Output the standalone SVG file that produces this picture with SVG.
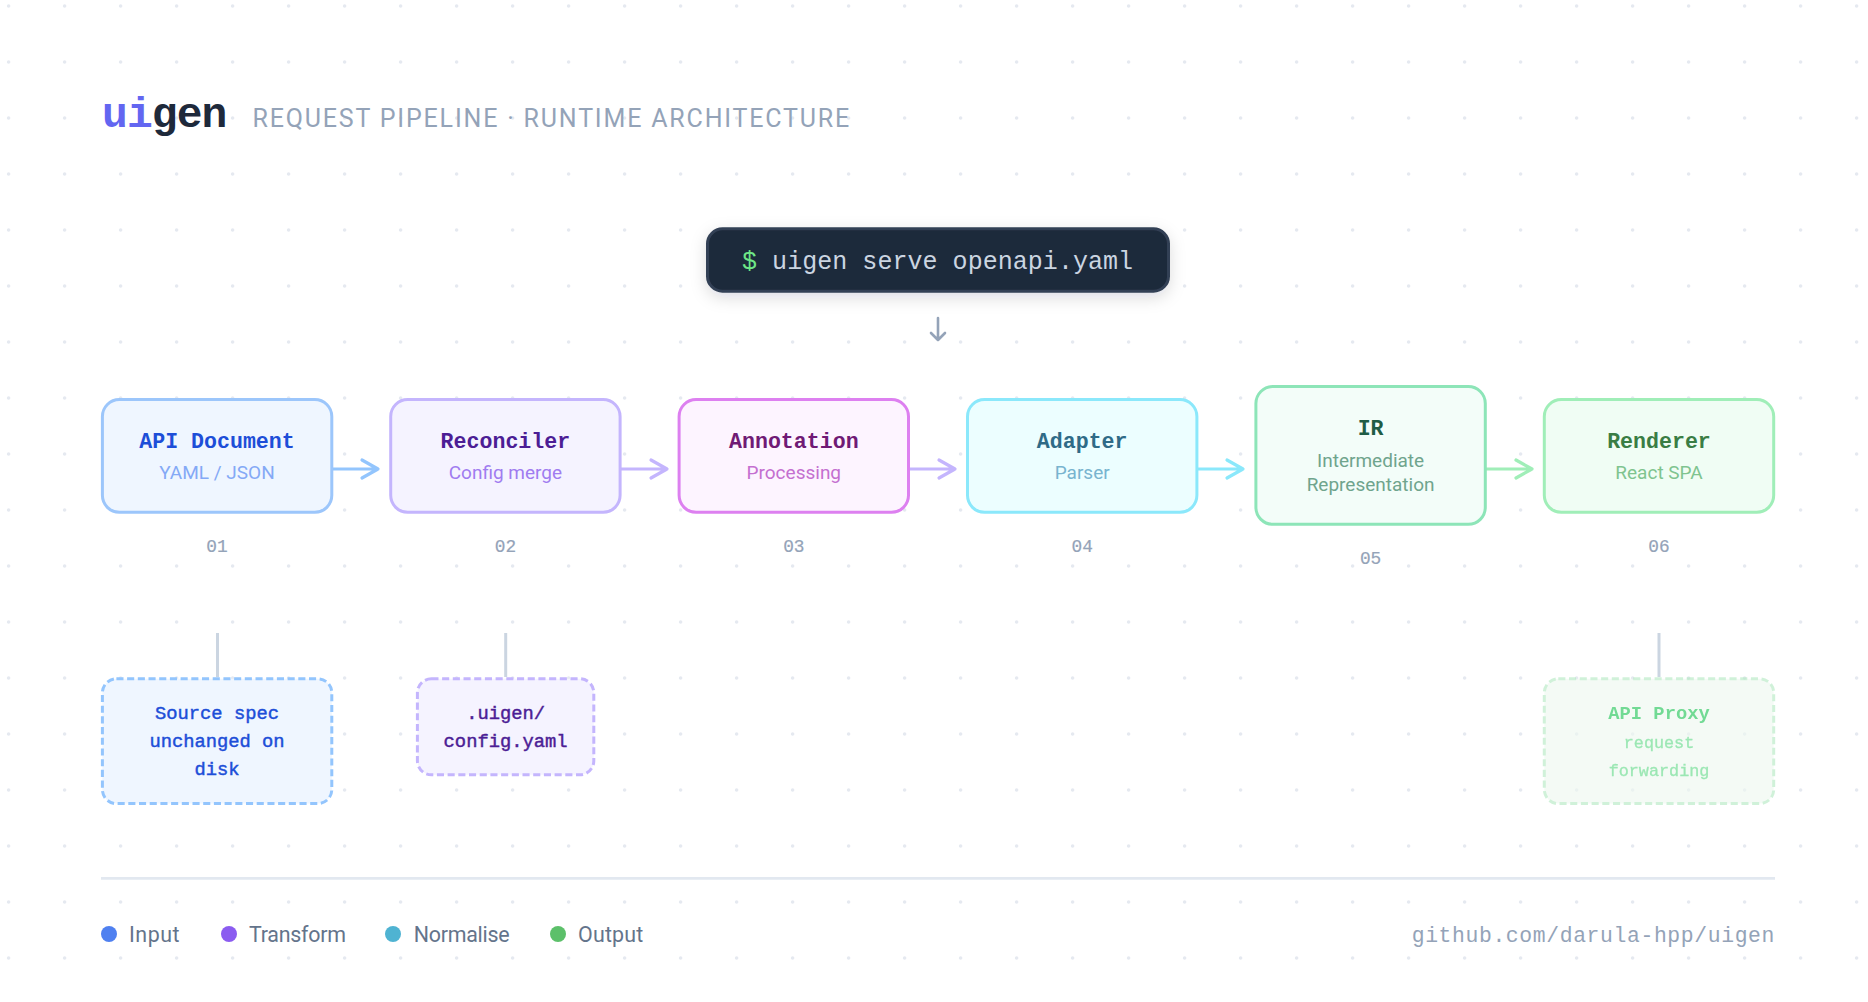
<svg xmlns="http://www.w3.org/2000/svg" width="1868" height="1002" viewBox="0 0 1868 1002">
<style>
.m{font-family:"Liberation Mono","DejaVu Sans Mono",monospace}
.s{font-family:"Roboto","Noto Sans",sans-serif}
text{text-anchor:middle}
.t{font-size:21.6px;font-weight:700}
.d{font-size:19px}
.n{font-size:17.8px;fill:#94a3b8;stroke:#94a3b8;stroke-width:.2px}
.nt{font-size:18.8px;stroke-width:.45px}
.nr{stroke-width:3;stroke-dasharray:7.1 3.6}
.box{stroke-width:3}
.lg{font-size:21.4px;fill:#64748b;text-anchor:start}
.ar{fill:none;stroke-width:3.2;stroke-linecap:round;stroke-linejoin:round}
.st{stroke:#cbd5e1;stroke-width:3;fill:none}
</style>
<defs>
<pattern id="dots" width="56" height="56" patternUnits="userSpaceOnUse"><circle cx="8.6" cy="6" r="1.8" fill="#e5e9f0"/></pattern>
<filter id="sh" x="-20%" y="-50%" width="140%" height="220%"><feDropShadow dx="0" dy="5" stdDeviation="8" flood-color="#0f172a" flood-opacity=".14"/></filter>
</defs>
<rect width="1868" height="1002" fill="#fff"/>
<rect width="1868" height="1002" fill="url(#dots)"/>

<g id="header">
<text class="m" x="102" y="126.7" font-size="43" font-weight="700" letter-spacing="-.9" style="text-anchor:start"><tspan fill="#6366f1">ui</tspan><tspan fill="#1e293b">gen</tspan></text>
<text class="s" x="252.5" y="126.7" font-size="25" fill="#94a3b8" letter-spacing="1.82" style="text-anchor:start">REQUEST PIPELINE · RUNTIME ARCHITECTURE</text>
</g>

<g id="command">
<rect x="707.5" y="228.8" width="461" height="62.4" rx="15" fill="#1e293b" stroke="#334155" stroke-width="3" filter="url(#sh)"/>
<text class="m" x="742" y="268.6" font-size="25" fill="#cbd5e1" letter-spacing=".04" style="text-anchor:start"><tspan fill="#6ee787">$</tspan> uigen serve openapi.yaml</text>
</g>

<g id="connectors">
<path class="ar" style="stroke-width:2.6" stroke="#94a3b8" d="M938 318V340M931 333L938 340L945 333"/>
<path class="ar" stroke="#93c5fd" d="M333 469H378M362 460L378 469L362 478"/>
<path class="ar" stroke="#c4b5fd" d="M621 469H667M651 460L667 469L651 478"/>
<path class="ar" stroke="#c4b5fd" d="M909 469H955M939 460L955 469L939 478"/>
<path class="ar" stroke="#8be8fb" d="M1198 469H1243M1227 460L1243 469L1227 478"/>
<path class="ar" stroke="#a0eeb8" d="M1486 469H1532M1516 460L1532 469L1516 478"/>
<path class="st" d="M217.5 633V677"/>
<path class="st" d="M505.7 633V677"/>
<path class="st" d="M1659 633V677"/>
</g>

<g id="node-api">
<rect class="box" x="102.4" y="399.5" width="229.4" height="112.8" rx="17" fill="#eff6ff" stroke="#9cc6fb"/>
<text class="m t" x="217" y="448.3" fill="#1d4ed8">API Document</text>
<text class="s d" x="217" y="479.3" fill="#84a9f6">YAML / JSON</text>
<text class="m n" x="217" y="552">01</text>
</g>
<g id="node-reconciler">
<rect class="box" x="390.7" y="399.5" width="229.4" height="112.8" rx="17" fill="#f5f3ff" stroke="#c4b5fd"/>
<text class="m t" x="505.4" y="448.3" fill="#4c1d95">Reconciler</text>
<text class="s d" x="505.4" y="479.3" fill="#a07cf0">Config merge</text>
<text class="m n" x="505.4" y="552">02</text>
</g>
<g id="node-annotation">
<rect class="box" x="679.1" y="399.5" width="229.4" height="112.8" rx="17" fill="#fdf4ff" stroke="#dd80f0"/>
<text class="m t" x="793.8" y="448.3" fill="#701a75">Annotation</text>
<text class="s d" x="793.8" y="479.3" fill="#c46fd0">Processing</text>
<text class="m n" x="793.8" y="552">03</text>
</g>
<g id="node-adapter">
<rect class="box" x="967.5" y="399.5" width="229.4" height="112.8" rx="17" fill="#ecfeff" stroke="#8be8fb"/>
<text class="m t" x="1082.2" y="448.3" fill="#2f6b87">Adapter</text>
<text class="s d" x="1082.2" y="479.3" fill="#78b4cf">Parser</text>
<text class="m n" x="1082.2" y="552">04</text>
</g>
<g id="node-ir">
<rect class="box" x="1255.9" y="386.5" width="229.4" height="137.8" rx="17" fill="#f3fdf9" stroke="#8de5b8"/>
<text class="m t" x="1370.6" y="435" fill="#1f5c45">IR</text>
<text class="s d" x="1370.6" y="467.3" fill="#6fa48d">Intermediate</text>
<text class="s d" x="1370.6" y="491.3" fill="#6fa48d">Representation</text>
<text class="m n" x="1370.6" y="564.3">05</text>
</g>
<g id="node-renderer">
<rect class="box" x="1544.3" y="399.5" width="229.4" height="112.8" rx="17" fill="#f0fdf4" stroke="#a0eeb8"/>
<text class="m t" x="1659" y="448.3" fill="#3a7d44">Renderer</text>
<text class="s d" x="1659" y="479.3" fill="#7fc48f">React SPA</text>
<text class="m n" x="1659" y="552">06</text>
</g>

<g id="note-source">
<rect class="nr" x="102.4" y="678.8" width="229.4" height="124.8" rx="14" fill="#eff6ff" stroke="#93c5fd"/>
<text class="m nt" x="217" y="718.6" fill="#1d4ed8" stroke="#1d4ed8">Source spec</text>
<text class="m nt" x="217" y="747.3" fill="#1d4ed8" stroke="#1d4ed8">unchanged on</text>
<text class="m nt" x="217" y="775.3" fill="#1d4ed8" stroke="#1d4ed8">disk</text>
</g>
<g id="note-config">
<rect class="nr" x="417.4" y="678.8" width="176.4" height="96" rx="14" fill="#f5f3ff" stroke="#c4b5fd"/>
<text class="m nt" x="505.6" y="718.6" fill="#4c1d95" stroke="#4c1d95">.uigen/</text>
<text class="m nt" x="505.6" y="747.3" fill="#4c1d95" stroke="#4c1d95">config.yaml</text>
</g>
<g id="note-proxy" opacity=".6">
<rect class="nr" x="1544.3" y="678.8" width="229.4" height="124.8" rx="14" fill="#eef8f0" stroke="#b1e9c0"/>
<text class="m" x="1659" y="718.6" font-size="18.8" font-weight="700" fill="#16c24e">API Proxy</text>
<text class="m" x="1659" y="747.6" font-size="16.8" fill="#5ad882" stroke="#5ad882" stroke-width=".35">request</text>
<text class="m" x="1659" y="775.6" font-size="16.8" fill="#5ad882" stroke="#5ad882" stroke-width=".35">forwarding</text>
</g>

<g id="footer">
<path d="M101 878.3H1775" stroke="#e2e8f0" stroke-width="2.8" fill="none"/>
<circle cx="109" cy="934" r="8" fill="#4f80f0"/>
<text class="s lg" x="129" y="942" letter-spacing=".5">Input</text>
<circle cx="229" cy="934" r="8" fill="#8b5cf0"/>
<text class="s lg" x="249" y="942" letter-spacing="-.25">Transform</text>
<circle cx="393" cy="934" r="8" fill="#4fb3d2"/>
<text class="s lg" x="413.7" y="942" letter-spacing="-.25">Normalise</text>
<circle cx="558" cy="934" r="8" fill="#5cc06a"/>
<text class="s lg" x="578" y="942" letter-spacing=".2">Output</text>
<text class="m" x="1775" y="942" font-size="21.4" fill="#94a3b8" letter-spacing=".62" style="text-anchor:end">github.com/darula-hpp/uigen</text>
</g>
</svg>
